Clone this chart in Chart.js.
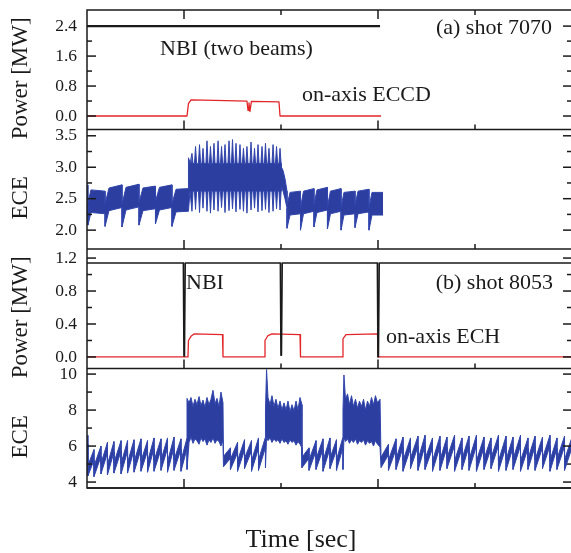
<!DOCTYPE html>
<html>
<head>
<meta charset="utf-8">
<script src="https://cdn.jsdelivr.net/npm/chart.js@4.4.1/dist/chart.umd.min.js"></script>
<style>
html,body{margin:0;padding:0;background:#fff;overflow:hidden;width:571px;height:553px}
canvas{display:block}
</style>
</head>
<body>
<canvas id="c" width="573" height="553"></canvas>
<script>
// ================= DATA =================
// time axis [sec]
const timeMin = 0, timeMax = 5.0;
const timeMajorTicks = [1, 3];
const timeMinorTicks = [2, 4];

// ---- panel (a) shot 7070 : heating power [MW] ----
const powA_ticks = [0.0, 0.8, 1.6, 2.4];
const powA_labels = ['0.0', '0.8', '1.6', '2.4'];
const powA_minor = [0.4, 1.2, 2.0];
const nbiA_t = [0.000, 3.021];
const nbiA_p = [2.40, 2.40];
const eccd_t = [0.000, 1.031, 1.046, 1.072, 1.320, 1.649, 1.660, 1.670, 1.680, 1.695, 1.979, 1.990, 3.031];
const eccd_p = [0.00, 0.00, 0.33, 0.43, 0.42, 0.40, 0.15, 0.35, 0.12, 0.39, 0.38, 0.00, 0.00];

// ---- panel (a) shot 7070 : ECE ----
const eceA_ticks = [2.0, 2.5, 3.0, 3.5];
const eceA_labels = ['2.0', '2.5', '3.0', '3.5'];
const eceA_minor = [2.25, 2.75, 3.25];
const eceA_noise = 0.36;                       // thickness of the noisy trace
const eceA_start_t = [0.000], eceA_start_hi = [2.72], eceA_start_lo = [2.40];
// sawteeth before ECCD: crash times, minimum after crash, knee (time, lower edge), maximum before next crash
const eceA_saw1_crash = [0.010, 0.186, 0.361, 0.536, 0.706, 0.876, 1.046];
const eceA_saw1_min = [2.08, 2.06, 2.05, 2.08, 2.10, 2.06];
const eceA_saw1_kneeT = [0.041, 0.227, 0.402, 0.577, 0.747, 0.918];
const eceA_saw1_knee = [2.28, 2.31, 2.32, 2.31, 2.32, 2.29];
const eceA_saw1_max = [2.62, 2.72, 2.73, 2.70, 2.72, 2.66];
// ECCD phase: rise, dense band with fast spikes, decay
const eceA_rise_t = [1.046, 1.062], eceA_rise_hi = [3.15, 3.06], eceA_rise_lo = [2.30, 2.62];
const eceA_bandHi = 3.06, eceA_bandLo = 2.62;
const eceA_spike_t = [1.082, 1.119, 1.160, 1.196, 1.237, 1.273, 1.309, 1.351, 1.387, 1.423, 1.464, 1.500, 1.536,
                      1.577, 1.613, 1.649, 1.691, 1.727, 1.763, 1.804, 1.840, 1.876, 1.918, 1.954, 1.990];
const eceA_spike_top = [3.22, 3.33, 3.36, 3.30, 3.42, 3.33, 3.38, 3.42, 3.33, 3.36, 3.42, 3.44, 3.38,
                        3.36, 3.30, 3.33, 3.40, 3.30, 3.36, 3.33, 3.38, 3.30, 3.36, 3.33, 3.30];
const eceA_spike_bot = [2.30, 2.33, 2.28, 2.35, 2.30, 2.27, 2.32, 2.30, 2.36, 2.28, 2.31, 2.34, 2.29,
                        2.33, 2.30, 2.27, 2.32, 2.35, 2.29, 2.31, 2.33, 2.28, 2.30, 2.34, 2.32];
const eceA_tail_t = [2.005, 2.021, 2.041, 2.062], eceA_tail_hi = [3.00, 2.95, 2.82, 2.62], eceA_tail_lo = [2.70, 2.62, 2.50, 2.35];
// sawteeth after ECCD
const eceA_saw2_crash = [2.062, 2.201, 2.340, 2.479, 2.619, 2.763, 2.907, 3.052];
const eceA_saw2_min = [2.03, 2.00, 2.05, 2.02, 2.00, 2.04, 2.00];
const eceA_saw2_kneeT = [2.093, 2.232, 2.371, 2.510, 2.649, 2.794, 2.938];
const eceA_saw2_knee = [2.24, 2.26, 2.28, 2.26, 2.24, 2.26, 2.24];
const eceA_saw2_max = [2.62, 2.66, 2.68, 2.66, 2.62, 2.65, 2.60];

// ---- panel (b) shot 8053 : heating power [MW] ----
const powB_ticks = [0.0, 0.4, 0.8, 1.2];
const powB_labels = ['0.0', '0.4', '0.8', '1.2'];
const powB_minor = [0.2, 0.6, 1.0];
const nbiB_t = [0.000, 0.992, 0.998, 1.006, 1.014, 1.992, 1.998, 2.006, 2.014, 2.992, 2.998, 3.006, 3.014, 5.000];
const nbiB_p = [1.14, 1.14, 0.01, 0.01, 1.14, 1.14, 0.02, 0.02, 1.14, 1.14, 0.00, 0.00, 1.14, 1.14];
const ech_t = [0.000, 1.041, 1.046, 1.072, 1.103, 1.397, 1.402, 1.830, 1.835, 1.866, 1.907, 2.196, 2.201,
               2.633, 2.639, 2.670, 2.995, 3.000, 5.000];
const ech_p = [0.00, 0.00, 0.20, 0.25, 0.28, 0.27, 0.00, 0.00, 0.20, 0.26, 0.28, 0.27, 0.00,
               0.00, 0.22, 0.27, 0.28, 0.00, 0.00];

// ---- panel (b) shot 8053 : ECE ----
const eceB_ticks = [4, 6, 8, 10];
const eceB_labels = ['4', '6', '8', '10'];
const eceB_minor = [5, 7, 9];
const eceB_noise = 0.58;
const eceB_start_t = [0.000], eceB_start_hi = [6.60], eceB_start_lo = [6.10];
const eceB_saw1_crash = [0.010, 0.072, 0.144, 0.211, 0.278, 0.351, 0.418, 0.485, 0.557, 0.624, 0.691, 0.763, 0.830, 0.897, 0.969, 1.031];
const eceB_saw1_min = [4.35, 4.30, 4.45, 4.40, 4.50, 4.45, 4.50, 4.55, 4.60, 4.55, 4.60, 4.65, 4.55, 4.65, 4.60];
const eceB_saw1_max = [5.80, 6.00, 6.20, 6.25, 6.30, 6.30, 6.35, 6.40, 6.30, 6.45, 6.40, 6.45, 6.50, 6.40, 6.45];
const eceB_ech1_t = [1.031, 1.052, 1.072, 1.093, 1.113, 1.134, 1.155, 1.175, 1.196, 1.216, 1.237, 1.258, 1.278, 1.299, 1.320, 1.340, 1.361, 1.381, 1.402];
const eceB_ech1_hi = [8.65, 8.40, 8.70, 8.20, 8.60, 8.30, 8.75, 8.25, 8.55, 8.15, 8.70, 8.30, 8.60, 9.10, 8.35, 8.65, 8.20, 9.00, 8.40];
const eceB_ech1_lo = [4.70, 6.20, 6.50, 6.15, 6.40, 6.30, 6.10, 6.45, 6.25, 6.40, 6.05, 6.35, 6.20, 6.45, 6.15, 6.35, 6.25, 6.00, 6.30];
const eceB_saw2_crash = [1.407, 1.479, 1.552, 1.624, 1.696, 1.768, 1.840];
const eceB_saw2_min = [4.85, 4.70, 4.60, 4.75, 4.60, 4.65];
const eceB_saw2_max = [5.90, 6.20, 6.35, 6.30, 6.45, 6.50];
const eceB_ech2_t = [1.840, 1.851, 1.866, 1.887, 1.907, 1.928, 1.948, 1.969, 1.990, 2.010, 2.031, 2.052, 2.072, 2.093, 2.113, 2.134, 2.155, 2.175, 2.196, 2.216];
const eceB_ech2_hi = [8.00, 10.25, 8.70, 8.30, 8.80, 8.20, 8.60, 8.10, 8.50, 8.00, 8.40, 8.00, 8.50, 7.90, 8.30, 7.95, 8.50, 8.00, 8.70, 8.30];
const eceB_ech2_lo = [4.80, 6.50, 6.30, 6.45, 6.20, 6.40, 6.25, 6.35, 6.15, 6.40, 6.20, 6.30, 6.10, 6.35, 6.20, 6.30, 6.05, 6.25, 6.10, 5.90];
const eceB_saw3_crash = [2.216, 2.289, 2.361, 2.433, 2.505, 2.572, 2.639];
const eceB_saw3_min = [4.80, 4.65, 4.70, 4.60, 4.75, 4.65];
const eceB_saw3_max = [5.90, 6.30, 6.40, 6.45, 6.35, 6.50];
const eceB_ech3_t = [2.639, 2.649, 2.665, 2.686, 2.706, 2.727, 2.747, 2.768, 2.789, 2.809, 2.830, 2.851, 2.871, 2.892, 2.912, 2.933, 2.954, 2.974, 2.995, 3.021];
const eceB_ech3_hi = [8.00, 9.95, 8.60, 8.90, 8.30, 8.80, 8.20, 8.60, 8.10, 8.50, 8.20, 8.60, 8.00, 8.50, 8.20, 8.70, 8.30, 8.80, 8.40, 8.60];
const eceB_ech3_lo = [4.70, 6.45, 6.25, 6.40, 6.15, 6.35, 6.20, 6.40, 6.10, 6.30, 6.20, 6.35, 6.05, 6.30, 6.15, 6.25, 6.00, 6.30, 6.10, 5.95];
const eceB_saw4_crash = [3.031, 3.108, 3.186, 3.258, 3.335, 3.412, 3.485, 3.562, 3.639, 3.711, 3.789, 3.866, 3.938, 4.015,
                         4.093, 4.165, 4.242, 4.320, 4.392, 4.469, 4.546, 4.619, 4.696, 4.773, 4.845, 4.923, 5.000];
const eceB_saw4_min = [4.80, 4.65, 4.70, 4.60, 4.75, 4.65, 4.70, 4.60, 4.65, 4.75, 4.60, 4.70, 4.65,
                       4.60, 4.70, 4.75, 4.60, 4.65, 4.70, 4.60, 4.70, 4.65, 4.75, 4.60, 4.70, 4.65];
const eceB_saw4_max = [6.10, 6.40, 6.50, 6.45, 6.55, 6.60, 6.45, 6.55, 6.50, 6.60, 6.45, 6.55, 6.60,
                       6.50, 6.45, 6.60, 6.55, 6.50, 6.60, 6.45, 6.55, 6.50, 6.60, 6.45, 6.55, 6.50];

// text labels inside the panels (data coordinates)
const notes = [
  {text: 'NBI (two beams)', axis: 'pA', t: 0.753, v: 1.79, align: 'left'},
  {text: '(a) shot 7070',   axis: 'pA', t: 4.794, v: 2.35, align: 'right'},
  {text: 'on-axis ECCD',    axis: 'pA', t: 2.216, v: 0.56, align: 'left'},
  {text: 'NBI',             axis: 'pB', t: 1.021, v: 0.89, align: 'left'},
  {text: '(b) shot 8053',   axis: 'pB', t: 4.804, v: 0.89, align: 'right'},
  {text: 'on-axis ECH',     axis: 'pB', t: 3.082, v: 0.24, align: 'left'}
];

// ================= BUILD =================
const SERIF = '"Liberation Serif", "Times New Roman", serif';
const INK = '#1a1a1a';
const BLUE = 'rgb(44,62,160)';
const BLUE_EDGE = 'rgb(50,70,172)';
const RED = 'rgb(226,38,40)';

const pts = (ts, vs) => ts.map((t, i) => ({x: t, y: vs[i]}));
function addBand(U, L, ts, his, los) {
  ts.forEach((t, i) => { U.push({x: t, y: his[i]}); L.push({x: t, y: los[i]}); });
}
function addTeeth(U, L, crash, mins, maxs, noise, kneeT, knee) {
  for (let i = 0; i < mins.length; i++) {
    U.push({x: crash[i], y: mins[i] + noise}); L.push({x: crash[i], y: mins[i]});
    if (kneeT) { U.push({x: kneeT[i], y: knee[i] + noise}); L.push({x: kneeT[i], y: knee[i]}); }
    U.push({x: crash[i + 1], y: maxs[i]});     L.push({x: crash[i + 1], y: maxs[i] - noise});
  }
}
function addSpikes(U, L, ts, tops, bots, hi, lo, half) {
  ts.forEach((t, i) => {
    U.push({x: t - half, y: hi}); L.push({x: t - half, y: lo});
    U.push({x: t, y: tops[i]});   L.push({x: t, y: bots[i]});
    U.push({x: t + half, y: hi}); L.push({x: t + half, y: lo});
  });
}

const uA = [], lA = [];
addBand(uA, lA, eceA_start_t, eceA_start_hi, eceA_start_lo);
addTeeth(uA, lA, eceA_saw1_crash, eceA_saw1_min, eceA_saw1_max, eceA_noise, eceA_saw1_kneeT, eceA_saw1_knee);
addBand(uA, lA, eceA_rise_t, eceA_rise_hi, eceA_rise_lo);
addSpikes(uA, lA, eceA_spike_t, eceA_spike_top, eceA_spike_bot, eceA_bandHi, eceA_bandLo, 0.011);
addBand(uA, lA, eceA_tail_t, eceA_tail_hi, eceA_tail_lo);
addTeeth(uA, lA, eceA_saw2_crash, eceA_saw2_min, eceA_saw2_max, eceA_noise, eceA_saw2_kneeT, eceA_saw2_knee);

const uB = [], lB = [];
addBand(uB, lB, eceB_start_t, eceB_start_hi, eceB_start_lo);
addTeeth(uB, lB, eceB_saw1_crash, eceB_saw1_min, eceB_saw1_max, eceB_noise);
addBand(uB, lB, eceB_ech1_t, eceB_ech1_hi, eceB_ech1_lo);
addTeeth(uB, lB, eceB_saw2_crash, eceB_saw2_min, eceB_saw2_max, eceB_noise);
addBand(uB, lB, eceB_ech2_t, eceB_ech2_hi, eceB_ech2_lo);
addTeeth(uB, lB, eceB_saw3_crash, eceB_saw3_min, eceB_saw3_max, eceB_noise);
addBand(uB, lB, eceB_ech3_t, eceB_ech3_hi, eceB_ech3_lo);
addTeeth(uB, lB, eceB_saw4_crash, eceB_saw4_min, eceB_saw4_max, eceB_noise);

const NB = '\u00a0\u00a0\u00a0';
function yAxis(min, max, ticks, labels, title) {
  return {
    type: 'linear', position: 'left', stack: 'panels', stackWeight: 1, min, max,
    afterBuildTicks: s => { s.ticks = ticks.map(v => ({value: v})); },
    afterFit: s => { s.width = 57; s.paddingTop = 0; s.paddingBottom = 0; },
    ticks: {autoSkip: false, padding: 10, color: INK, font: {family: SERIF, size: 17.5},
            callback: (v, i) => labels[i]},
    grid: {display: false, drawTicks: false},
    border: {display: false},
    title: {display: true, text: title + NB, color: INK, font: {family: SERIF, size: 23},
            padding: {top: -23, bottom: 0}}
  };
}

const minorOf = {pA: powA_minor, eA: eceA_minor, pB: powB_minor, eB: eceB_minor};

const framePlugin = {
  id: 'frame',
  afterDatasetsDraw(chart) {
    const {ctx, chartArea: a, scales} = chart;
    const xs = scales.x;
    ctx.save();
    ctx.strokeStyle = INK;
    ctx.lineWidth = 1.5;
    const seg = (x1, y1, x2, y2) => { ctx.beginPath(); ctx.moveTo(x1, y1); ctx.lineTo(x2, y2); ctx.stroke(); };
    ctx.strokeRect(a.left, a.top, a.right - a.left, a.bottom - a.top);
    ['pA', 'eA', 'pB', 'eB'].forEach(id => {
      const s = scales[id];
      seg(a.left, s.bottom, a.right, s.bottom);
      s.ticks.forEach(t => {
        const y = s.getPixelForValue(t.value);
        seg(a.left, y, a.left + 9, y); seg(a.right, y, a.right - 9, y);
      });
      minorOf[id].forEach(v => {
        const y = s.getPixelForValue(v);
        seg(a.left, y, a.left + 5, y); seg(a.right, y, a.right - 5, y);
      });
      timeMajorTicks.forEach(v => { const x = xs.getPixelForValue(v); seg(x, s.bottom, x, s.bottom - 9); });
      timeMinorTicks.forEach(v => { const x = xs.getPixelForValue(v); seg(x, s.bottom, x, s.bottom - 5); });
    });
    const top = scales.pA.top;
    timeMajorTicks.forEach(v => { const x = xs.getPixelForValue(v); seg(x, top, x, top + 9); });
    timeMinorTicks.forEach(v => { const x = xs.getPixelForValue(v); seg(x, top, x, top + 5); });
    ctx.restore();
  }
};

const notePlugin = {
  id: 'notes',
  afterDraw(chart) {
    const {ctx, scales} = chart;
    ctx.save();
    ctx.fillStyle = INK;
    ctx.font = '22px ' + SERIF;
    ctx.textBaseline = 'middle';
    notes.forEach(n => {
      ctx.textAlign = n.align;
      ctx.fillText(n.text, scales.x.getPixelForValue(n.t), scales[n.axis].getPixelForValue(n.v));
    });
    ctx.restore();
  }
};

new Chart(document.getElementById('c'), {
  type: 'line',
  data: {
    datasets: [
      {label: 'NBI (two beams)', data: pts(nbiA_t, nbiA_p), yAxisID: 'pA', borderColor: INK, borderWidth: 2.4},
      {label: 'on-axis ECCD', data: pts(eccd_t, eccd_p), yAxisID: 'pA', borderColor: RED, borderWidth: 1.3},
      {label: 'ECE (a) upper', data: uA, yAxisID: 'eA', borderColor: BLUE_EDGE, borderWidth: 1, fill: false},
      {label: 'ECE (a) lower', data: lA, yAxisID: 'eA', borderColor: BLUE_EDGE, borderWidth: 1, fill: '-1', backgroundColor: BLUE},
      {label: 'NBI', data: pts(nbiB_t, nbiB_p), yAxisID: 'pB', borderColor: INK, borderWidth: 1.3},
      {label: 'on-axis ECH', data: pts(ech_t, ech_p), yAxisID: 'pB', borderColor: RED, borderWidth: 1.3},
      {label: 'ECE (b) upper', data: uB, yAxisID: 'eB', borderColor: BLUE_EDGE, borderWidth: 1, fill: false},
      {label: 'ECE (b) lower', data: lB, yAxisID: 'eB', borderColor: BLUE_EDGE, borderWidth: 1, fill: '-1', backgroundColor: BLUE}
    ]
  },
  options: {
    responsive: false,
    animation: false,
    devicePixelRatio: 1,
    layout: {padding: {left: 30, right: 1, top: 10, bottom: 0}},
    elements: {point: {radius: 0}, line: {tension: 0, borderJoinStyle: 'round'}},
    plugins: {
      legend: {display: false},
      tooltip: {enabled: false},
      title: {display: true, position: 'bottom', text: 'Time [sec]', color: INK,
              font: {family: SERIF, size: 26, weight: 'normal', lineHeight: 1}, padding: {top: 39, bottom: 0}}
    },
    scales: {
      x: {type: 'linear', min: timeMin, max: timeMax, ticks: {display: false},
          grid: {display: false, drawTicks: false}, border: {display: false},
          afterFit: s => { s.height = 0; }},
      eB: yAxis(3.67, 10.31, eceB_ticks, eceB_labels, 'ECE'),
      pB: yAxis(-0.14, 1.31, powB_ticks, powB_labels, 'Power [MW]'),
      eA: yAxis(1.70, 3.60, eceA_ticks, eceA_labels, 'ECE'),
      pA: yAxis(-0.36, 2.83, powA_ticks, powA_labels, 'Power [MW]')
    }
  },
  plugins: [framePlugin, notePlugin]
});
</script>
</body>
</html>
